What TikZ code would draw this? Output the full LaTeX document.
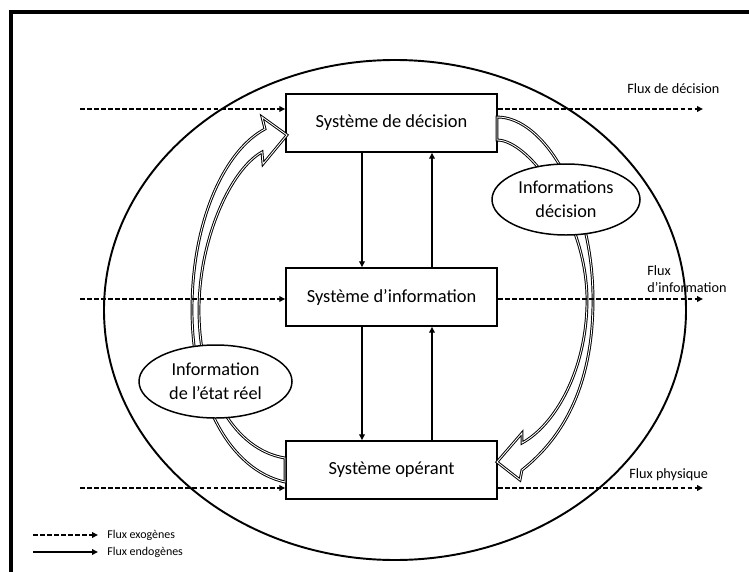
\documentclass[tikz,border=0pt]{standalone}
\usepackage{fontspec}
\setmainfont{Carlito}
\usetikzlibrary{arrows.meta,shapes.geometric}

\begin{document}
\begin{tikzpicture}[scale=0.2]
\tikzstyle{every node}+=[inner sep=0pt]
\tikzstyle{sysbox}=[draw=black, fill=white, line width=0.85pt, minimum width=4.22cm, minimum height=1.16cm, font=\fontsize{10.5}{12.6}\selectfont]
\tikzstyle{infobulle}=[ellipse, draw=black, fill=white, line width=0.85pt, align=center, font=\fontsize{10.4}{13.7}\selectfont]
\tikzstyle{exo}=[black, line width=0.75pt, dash pattern=on 2.8pt off 1.2pt, -{Triangle[length=3.4pt,width=3.2pt]}]
\tikzstyle{endo}=[black, line width=0.75pt, -{Triangle[length=3.4pt,width=3.2pt]}]
\tikzstyle{bande}=[draw=black, fill=white, line width=0.55pt, double=white, double distance=0.5pt, line join=miter]
\tikzstyle{fluxlabel}=[anchor=west, align=left, font=\fontsize{8.1}{9.7}\selectfont]
\tikzstyle{legende}=[anchor=west, font=\fontsize{6.8}{8}\selectfont]
\useasboundingbox (0,0) rectangle (74.9,-57.1);
\clip (0,0) rectangle (74.9,-57.1);
\draw [black, line width=2.3pt] (1.1,-1.2) rectangle (80,-62);
\draw [black, line width=1.1pt] (39.5,-31) ellipse (29.1 and 25);
\node [sysbox] (dec) at (39.15,-12.3) {Système de décision};
\node [sysbox] (info) at (39.15,-29.7) {Système d’information};
\node [sysbox] (oper) at (39.15,-47.0) {Système opérant};
\draw [bande] (28.5,-45.8) .. controls (23.5,-45) and (19.9,-39) .. (19.9,-31) .. controls (19.9,-24) and (23,-17) .. (26.2,-15.2) -- (26.3,-16.4) -- (28.7,-13.5) -- (26.2,-11.7) -- (26.5,-12.9) .. controls (22.5,-15) and (19.2,-22) .. (19.2,-31) .. controls (19.2,-40) and (23,-47) .. (28.5,-48.2) -- cycle;
\draw [bande] (49.7,-11.7) .. controls (54.5,-11.7) and (59.3,-20) .. (59.3,-30) .. controls (59.3,-39) and (56,-44) .. (52.2,-47.0) -- (52.0,-48.0) -- (49.7,-46.2) -- (52.2,-43.3) -- (52.2,-44.3) .. controls (55.5,-42.5) and (58.7,-37) .. (58.7,-30) .. controls (58.7,-22) and (53,-14) .. (49.7,-14) -- cycle;
\node [infobulle, minimum width=2.96cm, minimum height=1.42cm] (infodec) at (56.6,-19.95) {Informations\\décision};
\node [infobulle, minimum width=3.06cm, minimum height=1.46cm] (infoetat) at (21.55,-38.15) {Information\\de l’état réel};
\draw [endo] ([xshift=-2.95cm]dec.south) -- ([xshift=-2.95cm]info.north);
\draw [endo] ([xshift=4.05cm]info.north) -- ([xshift=4.05cm]dec.south);
\draw [endo] ([xshift=-2.95cm]info.south) -- ([xshift=-2.95cm]oper.north);
\draw [endo] ([xshift=4.05cm]oper.north) -- ([xshift=4.05cm]info.south);
\coordinate (decin) at (8,-10.9);
\coordinate (decout) at (70.3,-10.9);
\coordinate (infoin) at (8,-29.9);
\coordinate (infoout) at (70.3,-29.9);
\coordinate (operin) at (8,-48.8);
\coordinate (operout) at (70.3,-48.8);
\draw [exo] (decin) -- (decin -| dec.west);
\draw [exo] (decin -| dec.east) -- (decout);
\draw [exo] (infoin) -- (infoin -| info.west);
\draw [exo] (infoin -| info.east) -- (infoout);
\draw [exo] (operin) -- (operin -| oper.west);
\draw [exo] (operin -| oper.east) -- (operout);
\node [fluxlabel] (labdec) at (62.7,-8.9) {Flux de décision};
\node [fluxlabel] (labinfo) at (64.7,-27.95) {Flux\\d’information};
\node [fluxlabel] (labphys) at (62.9,-47.5) {Flux physique};
\node [legende] (txtexo) at (10.7,-53.5) {Flux exogènes};
\node [legende] (txtendo) at (10.7,-55.2) {Flux endogènes};
\coordinate (legexo) at (3.3,-53.5);
\coordinate (legendo) at (3.3,-55.2);
\draw [exo] (legexo) -- ([xshift=-0.9cm]txtexo.west);
\draw [endo] (legendo) -- ([xshift=-0.9cm]txtendo.west);
\end{tikzpicture}
\end{document}
